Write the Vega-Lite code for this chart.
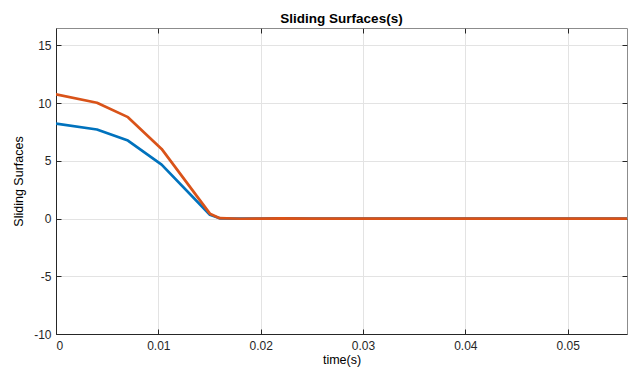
{
  "$schema": "https://vega.github.io/schema/vega-lite/v6.json",
  "width": 571,
  "height": 306,
  "autosize": {"type": "none"},
  "padding": {"left": 56, "top": 28, "right": 2, "bottom": 36},
  "background": "white",
  "title": {
    "text": "Sliding Surfaces(s)",
    "font": "Liberation Sans",
    "fontSize": 13.5,
    "fontWeight": "bold",
    "color": "#000000",
    "offset": 2
  },
  "config": {
    "view": {"stroke": "#8c8c8c", "strokeWidth": 1},
    "axis": {
      "labelFont": "Liberation Sans",
      "labelFontSize": 12,
      "labelColor": "#262626",
      "titleFont": "Liberation Sans",
      "titleFontSize": 12.5,
      "titleFontWeight": "normal",
      "titleColor": "#000000",
      "domainColor": "#262626",
      "tickColor": "#262626",
      "gridColor": "#e3e3e3",
      "gridWidth": 1
    }
  },
  "data": {
    "values": [
      {"t": 0.0, "s": 8.22, "series": "s1"},
      {"t": 0.004, "s": 7.71, "series": "s1"},
      {"t": 0.00703, "s": 6.75, "series": "s1"},
      {"t": 0.01032, "s": 4.67, "series": "s1"},
      {"t": 0.01504, "s": 0.33, "series": "s1"},
      {"t": 0.016, "s": 0.02, "series": "s1"},
      {"t": 0.018, "s": -0.01, "series": "s1"},
      {"t": 0.02, "s": 0.0, "series": "s1"},
      {"t": 0.022, "s": 0.01, "series": "s1"},
      {"t": 0.025, "s": 0.0, "series": "s1"},
      {"t": 0.03, "s": 0.0, "series": "s1"},
      {"t": 0.04, "s": 0.0, "series": "s1"},
      {"t": 0.05, "s": 0.0, "series": "s1"},
      {"t": 0.0558, "s": 0.0, "series": "s1"},
      {"t": 0.0, "s": 10.75, "series": "s2"},
      {"t": 0.004, "s": 10.03, "series": "s2"},
      {"t": 0.00703, "s": 8.78, "series": "s2"},
      {"t": 0.01032, "s": 6.03, "series": "s2"},
      {"t": 0.01504, "s": 0.42, "series": "s2"},
      {"t": 0.016, "s": 0.03, "series": "s2"},
      {"t": 0.018, "s": -0.02, "series": "s2"},
      {"t": 0.02, "s": 0.0, "series": "s2"},
      {"t": 0.022, "s": 0.02, "series": "s2"},
      {"t": 0.025, "s": -0.01, "series": "s2"},
      {"t": 0.03, "s": 0.0, "series": "s2"},
      {"t": 0.04, "s": 0.0, "series": "s2"},
      {"t": 0.05, "s": 0.0, "series": "s2"},
      {"t": 0.0558, "s": 0.0, "series": "s2"}
    ]
  },
  "resolve": {"axis": {"x": "independent", "y": "independent"}},
  "layer": [
    {
      "mark": {"type": "point", "opacity": 0},
      "encoding": {
        "x": {
          "field": "t",
          "type": "quantitative",
          "scale": {"domain": [0, 0.0558], "nice": false, "zero": false},
          "axis": {"orient": "top", "labels": false, "title": null, "grid": true, "domain": false, "values": [0.01, 0.02, 0.03, 0.04, 0.05], "tickSize": -5}
        },
        "y": {
          "field": "s",
          "type": "quantitative",
          "scale": {"domain": [-10, 16.5], "nice": false, "zero": false},
          "axis": {"orient": "right", "labels": false, "title": null, "grid": true, "domain": false, "values": [-5, 0, 5, 10, 15], "tickSize": -5}
        }
      }
    },
    {
      "mark": {"type": "line", "strokeWidth": 2.7, "strokeJoin": "round", "strokeCap": "round", "clip": true},
      "encoding": {
        "x": {
          "field": "t",
          "type": "quantitative",
          "scale": {"domain": [0, 0.0558], "nice": false, "zero": false},
          "axis": {
            "orient": "bottom",
            "title": "time(s)",
            "values": [0, 0.01, 0.02, 0.03, 0.04, 0.05],
            "labelExpr": "replace(format(datum.value, '~g'), '\u2212', '-')",
            "grid": false,
            "tickSize": -5,
            "labelPadding": 11,
            "titlePadding": 2,
            "domainWidth": 1
          }
        },
        "y": {
          "field": "s",
          "type": "quantitative",
          "scale": {"domain": [-10, 16.5], "nice": false, "zero": false},
          "axis": {
            "orient": "left",
            "title": "Sliding Surfaces",
            "values": [-10, -5, 0, 5, 10, 15],
            "labelExpr": "replace(format(datum.value, '~g'), '\u2212', '-')",
            "grid": false,
            "tickSize": -5,
            "labelPadding": 10,
            "titlePadding": 8,
            "domainWidth": 1
          }
        },
        "color": {
          "field": "series",
          "type": "nominal",
          "scale": {"domain": ["s1", "s2"], "range": ["#0072BD", "#D95319"]},
          "legend": null
        }
      }
    }
  ]
}
